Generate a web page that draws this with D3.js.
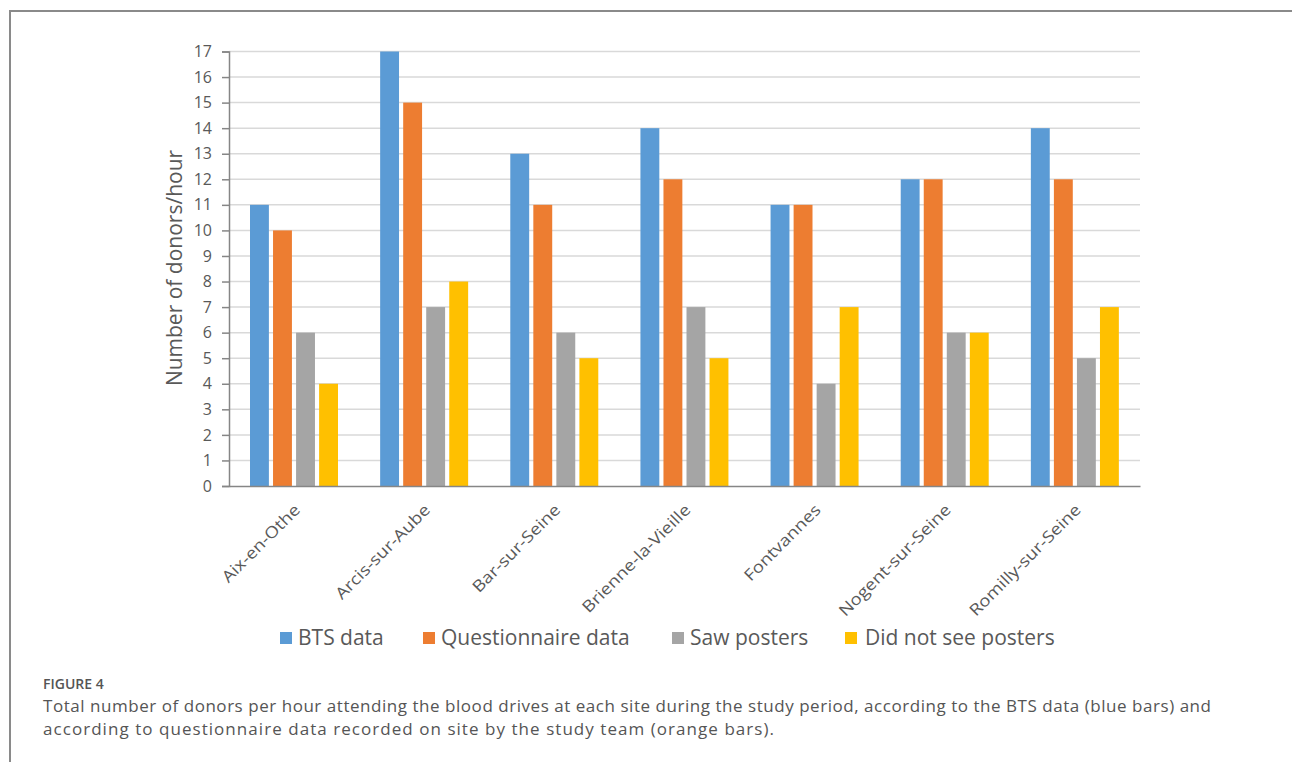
<!DOCTYPE html>
<html>
<head>
<meta charset="utf-8">
<script src="https://cdn.jsdelivr.net/npm/d3@7"></script>
<style>
  body { margin: 0; background: #fff; }
  svg text { font-family: "Open Sans", "Noto Sans", sans-serif; }
</style>
</head>
<body>
<div id="viz"></div>
<script>
const sites = ["Aix-en-Othe", "Arcis-sur-Aube", "Bar-sur-Seine", "Brienne-la-Vieille", "Fontvannes", "Nogent-sur-Seine", "Romilly-sur-Seine"];
const seriesNames = ["BTS data", "Questionnaire data", "Saw posters", "Did not see posters"];
const btsData = [11, 17, 13, 14, 11, 12, 14];
const questionnaireData = [10, 15, 11, 12, 11, 12, 12];
const sawPosters = [6, 7, 6, 7, 4, 6, 5];
const didNotSee = [4, 8, 5, 5, 7, 6, 7];
const yTicks = d3.range(0, 18);
const colors = ["#5b9bd5", "#ed7d31", "#a5a5a5", "#ffc000"];

const seriesValues = [btsData, questionnaireData, sawPosters, didNotSee];
const data = sites.map((s, i) => ({
    site: s,
    values: seriesNames.map((n, k) => ({ key: n, value: seriesValues[k][i], color: colors[k] }))
}));

const width = 1292;
const height = 762;

const svg = d3.select('#viz')
              .append('svg')
              .attr('width', width)
              .attr('height', height);

// frame lines (top and left)
svg.append('path')
   .attr('d', 'M10,762 L10,11 L1292,11')
   .attr('fill', 'none')
   .attr('stroke', '#8a8a8a')
   .attr('stroke-width', 2);

const plotLeft = 229, plotRight = 1140;
const xScale = d3.scaleBand().domain(sites).range([plotLeft, plotRight]);
const x1 = d3.scaleBand().domain(seriesNames).range([21, 109]).paddingInner(0.18);
const yScale = d3.scaleLinear().domain([0, 17]).range([486, 51.5]);

// gridlines
svg.append('g')
   .selectAll('line')
   .data(yTicks.filter(d => d > 0))
   .enter()
   .append('line')
   .attr('x1', plotLeft)
   .attr('x2', plotRight)
   .attr('y1', d => yScale(d))
   .attr('y2', d => yScale(d))
   .attr('stroke', '#d9d9d9')
   .attr('stroke-width', 1.5);

// bars
const groups = svg.append('g')
   .selectAll('g')
   .data(data)
   .enter()
   .append('g')
   .attr('transform', d => 'translate(' + xScale(d.site) + ',0)');

groups.selectAll('rect')
   .data(d => d.values)
   .enter()
   .append('rect')
   .attr('x', d => x1(d.key))
   .attr('width', x1.bandwidth())
   .attr('y', d => yScale(d.value))
   .attr('height', d => yScale(0) - yScale(d.value))
   .attr('fill', d => d.color);

// y axis
const yAxis = d3.axisLeft(yScale).tickValues(yTicks).tickSize(7).tickSizeOuter(7).tickPadding(10);
const yG = svg.append('g')
   .attr('transform', 'translate(' + plotLeft + ',0)')
   .call(yAxis);
yG.select('.domain').attr('stroke', '#868686').attr('stroke-width', 1.5);
yG.selectAll('.tick line').attr('stroke', '#868686').attr('stroke-width', 1.5);
yG.selectAll('.tick text')
  .attr('fill', '#595959')
  .style('font-size', '16px');

// x axis
const xAxis = d3.axisBottom(xScale).tickSize(0).tickSizeOuter(0).tickPadding(0);
const xG = svg.append('g')
   .attr('transform', 'translate(0,' + yScale(0) + ')')
   .call(xAxis);
xG.select('.domain').attr('stroke', '#868686').attr('stroke-width', 1.5);
xG.selectAll('.tick text')
  .attr('fill', '#595959')
  .style('font-size', '16px')
  .attr('text-anchor', 'end')
  .attr('y', 0)
  .attr('dy', 0)
  .attr('transform', 'translate(7,25) rotate(-45) scale(1.16,1)');

// y title
svg.append('text')
   .attr('transform', 'translate(182,268) rotate(-90)')
   .attr('text-anchor', 'middle')
   .attr('fill', '#595959')
   .style('font-size', '21px')
   .text('Number of donors/hour');

// legend
const legendX = [280, 423, 672, 845];
const legend = svg.append('g')
   .selectAll('g')
   .data(seriesNames)
   .enter()
   .append('g')
   .attr('transform', (d, i) => 'translate(' + legendX[i] + ',638)');
legend.append('rect')
   .attr('x', 0)
   .attr('y', -6)
   .attr('width', 12)
   .attr('height', 12)
   .attr('fill', (d, i) => colors[i]);
legend.append('text')
   .attr('x', (d, i) => i === 3 ? 20 : 18)
   .attr('y', 7)
   .attr('fill', '#595959')
   .style('font-size', '21px')
   .text(d => d);

// caption
svg.append('text')
   .attr('x', 43)
   .attr('y', 689)
   .attr('fill', '#555')
   .style('font-size', '14px')
   .style('font-weight', 600)
   .text('FIGURE 4');
svg.append('text')
   .attr('x', 43)
   .attr('y', 712)
   .attr('fill', '#555')
   .style('font-size', '17px')
   .attr('textLength', 1168)
   .attr('lengthAdjust', 'spacing')
   .text('Total number of donors per hour attending the blood drives at each site during the study period, according to the BTS data (blue bars) and');
svg.append('text')
   .attr('x', 43)
   .attr('y', 735)
   .attr('fill', '#555')
   .style('font-size', '17px')
   .attr('textLength', 731)
   .attr('lengthAdjust', 'spacing')
   .text('according to questionnaire data recorded on site by the study team (orange bars).');
</script>
</body>
</html>
